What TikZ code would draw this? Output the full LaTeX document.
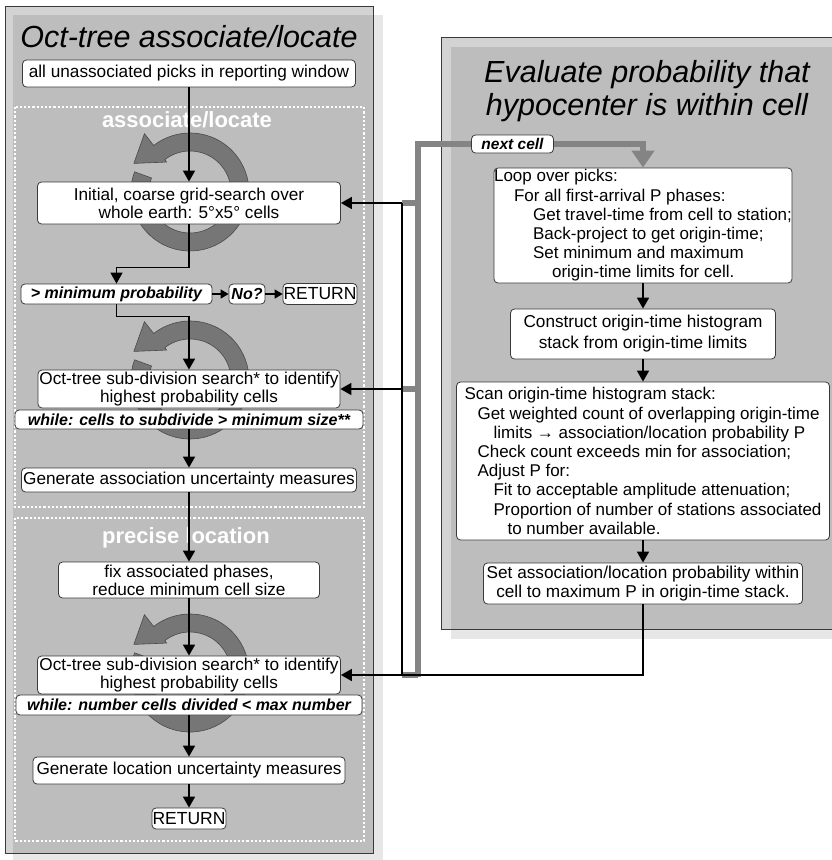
\documentclass[tikz,border=0pt]{standalone}
\usepackage{fontspec}
\setmainfont{Liberation Sans}
\usetikzlibrary{arrows.meta}

\definecolor{panelfill}{HTML}{BDBDBD}
\definecolor{panelrim}{HTML}{D3D3D3}
\definecolor{panelshade}{HTML}{E7E7E7}
\definecolor{panelline}{HTML}{3A3A3A}
\definecolor{ringfill}{HTML}{767676}
\definecolor{ringline}{HTML}{4A4A4A}
\definecolor{feedgray}{HTML}{848484}

\tikzset{
  box/.style={draw=panelline, fill=white, rounded corners=4pt, inner sep=0pt, line width=0.8pt, align=center, font=\fontsize{17.2}{18}\selectfont},
  condbox/.style={box, font=\fontsize{16}{18}\selectfont\bfseries\itshape},
  listbox/.style={box, align=left, font=\fontsize{17}{19.2}\selectfont},
  cellbox/.style={draw=panelline, fill=white, text=black, rounded corners=4pt, inner sep=0pt, line width=0.8pt, minimum width=82, minimum height=18, font=\fontsize{15.5}{17}\selectfont\bfseries\itshape},
  title/.style={font=\fontsize{30.5}{33}\selectfont\itshape, align=center, inner sep=0pt},
  zone/.style={draw=white, line width=2.2pt, dash pattern=on 2.2pt off 2pt},
  zonelabel/.style={white, font=\fontsize{22}{24}\selectfont\bfseries, inner sep=0pt},
  flow/.style={line width=1.6pt, -{Triangle[length=11pt,width=12pt]}},
  shortflow/.style={line width=1.6pt, -{Triangle[length=8pt,width=9pt]}},
  link/.style={line width=1.6pt},
  feed/.style={draw=feedgray, line width=6pt}
}

\newcommand{\cyclering}[1]{%
  \filldraw[fill=ringfill, draw=ringline, line width=0.6pt, shift={#1}]
    (160:59pt) arc[start angle=160, end angle=488, radius=59pt]
    -- (128:74pt) -- (153:63pt) -- (128:38pt) -- (128:41pt)
    arc[start angle=488, end angle=160, radius=41pt] -- cycle;}

\begin{document}
\begin{tikzpicture}[x=1pt, y=-1pt]
\useasboundingbox (0,0) rectangle (831,860);

\fill[panelshade] (13,15) rectangle (383,860);
\fill[panelrim] (5,6) rectangle (373,853);
\fill[panelfill] (13,15) rectangle (373,853);
\draw[panelline, line width=0.8pt] (5,6) rectangle (373,853);

\fill[panelshade] (451,47) rectangle (841,639);
\fill[panelrim] (441,37) rectangle (841,629);
\fill[panelfill] (451,47) rectangle (841,629);
\draw[panelline, line width=0.8pt] (441,37) rectangle (841,629);

\draw[zone] (15,107) rectangle (364,507);
\draw[zone] (15,518) rectangle (364,841);

\node[title, anchor=base] (LeftTitle) at (189,47) {Oct-tree associate/locate};
\node[title, anchor=north] (RightTitle) at (647,60) {Evaluate probability that\\hypocenter is within cell};
\node[zonelabel, anchor=base] (AssocZone) at (187,127) {associate/locate};
\node[zonelabel, anchor=base] (PreciseZone) at (186,543) {precise location};

\cyclering{(190,192)}
\cyclering{(190,380)}
\cyclering{(190,673)}

\begin{scope}[every node/.style={box}]
  \node[minimum width=333, minimum height=27] (Picks) at (189,73.5) {all unassociated picks in reporting window};
  \node[minimum width=303, minimum height=42] (Coarse) at (189,203) {Initial, coarse grid-search over\\whole earth: 5°x5° cells};
  \node[condbox, minimum width=191, minimum height=20] (MinProb) at (116.5,294) {> minimum probability};
  \node[condbox, minimum width=36, minimum height=20] (No) at (247,294) {No?};
  \node[font=\fontsize{17.5}{20}\selectfont, minimum width=74, minimum height=21] (Return) at (320,294) {RETURN};
  \node[minimum width=302, minimum height=38] (Octree) at (189,389) {Oct-tree sub-division search* to identify\\highest probability cells};
  \node[condbox, minimum width=348, minimum height=19] (WhileSize) at (189,419.5) {while: cells to subdivide > minimum size**};
  \node[minimum width=335, minimum height=24] (AssocUnc) at (189,480) {Generate association uncertainty measures};
  \node[minimum width=261, minimum height=36] (Fix) at (189,580) {fix associated phases,\\reduce minimum cell size};
  \node[minimum width=303, minimum height=38] (OctreeFine) at (189,675) {Oct-tree sub-division search* to identify\\highest probability cells};
  \node[condbox, minimum width=346, minimum height=20] (WhileCount) at (189,705) {while: number cells divided < max number};
  \node[minimum width=312, minimum height=27] (LocUnc) at (189,770.5) {Generate location uncertainty measures};
  \node[font=\fontsize{17.5}{20}\selectfont, minimum width=74, minimum height=21] (ReturnEnd) at (189,818.5) {RETURN};

  \node[listbox, minimum width=298, minimum height=115] (PickLoop) at (643,225.5) {Loop over picks:\\
    \hspace*{20pt}For all first-arrival P phases:\\
    \hspace*{39pt}Get travel-time from cell to station;\\
    \hspace*{39pt}Back-project to get origin-time;\\
    \hspace*{39pt}Set minimum and maximum\\
    \hspace*{58pt}origin-time limits for cell.};
  \node[font=\fontsize{17.2}{21}\selectfont, minimum width=265, minimum height=50] (Stack) at (643,334) {Construct origin-time histogram\\stack from origin-time limits};
  \node[listbox, inner xsep=3pt, minimum width=373, minimum height=158] (Scan) at (643,461) {Scan origin-time histogram stack:\\
    \hspace*{13pt}Get weighted count of overlapping origin-time\\
    \hspace*{29pt}limits → association/location probability P\\
    \hspace*{13pt}Check count exceeds min for association;\\
    \hspace*{13pt}Adjust P for:\\
    \hspace*{29pt}Fit to acceptable amplitude attenuation;\\
    \hspace*{29pt}Proportion of number of stations associated\\
    \hspace*{43pt}to number available.};
  \node[font=\fontsize{17.2}{18.5}\selectfont, minimum width=319, minimum height=41] (SetProb) at (643,583.5) {Set association/location probability within\\cell to maximum P in origin-time stack.};
\end{scope}

\coordinate (BusX) at (402,0);
\coordinate (FeedX) at (418,0);
\coordinate (FeedTop) at (418,144);
\coordinate (FeedFoot) at (418,677);

\draw[feed, -{Triangle[length=17pt,width=22pt]}] (FeedFoot) -- (FeedTop) -- node[pos=0.42, cellbox] (NextCell) {next cell} (FeedTop -| PickLoop.north) -- (PickLoop.north);
\foreach \row in {Coarse,Octree,OctreeFine}
  \draw[feed] (BusX |- \row.east) -- (FeedX |- \row.east);

\begin{scope}[every path/.style={flow}]
  \path (Picks) edge (Coarse);
  \path (WhileSize) edge (AssocUnc);
  \path (AssocUnc) edge (Fix);
  \path (Fix) edge (OctreeFine);
  \path (WhileCount) edge (LocUnc);
  \path (LocUnc) edge (ReturnEnd);
  \path (PickLoop) edge (Stack);
  \path (Stack) edge (Scan);
  \path (Scan) edge (SetProb);
  \path (BusX |- Coarse.east) edge (Coarse.east);
  \path (BusX |- Octree.east) edge (Octree.east);
\end{scope}
\draw[flow] (Coarse.south) -- ++(0,43) -| (MinProb.north);
\draw[flow] (MinProb.south) -- ++(0,12) -| (Octree.north);
\draw[shortflow] (MinProb) -- (No);
\draw[shortflow] (No) -- (Return);
\draw[link] (BusX |- Coarse.east) -- (BusX |- OctreeFine.east);
\draw[flow] (SetProb.south) |- (OctreeFine.east);
\end{tikzpicture}
\end{document}
